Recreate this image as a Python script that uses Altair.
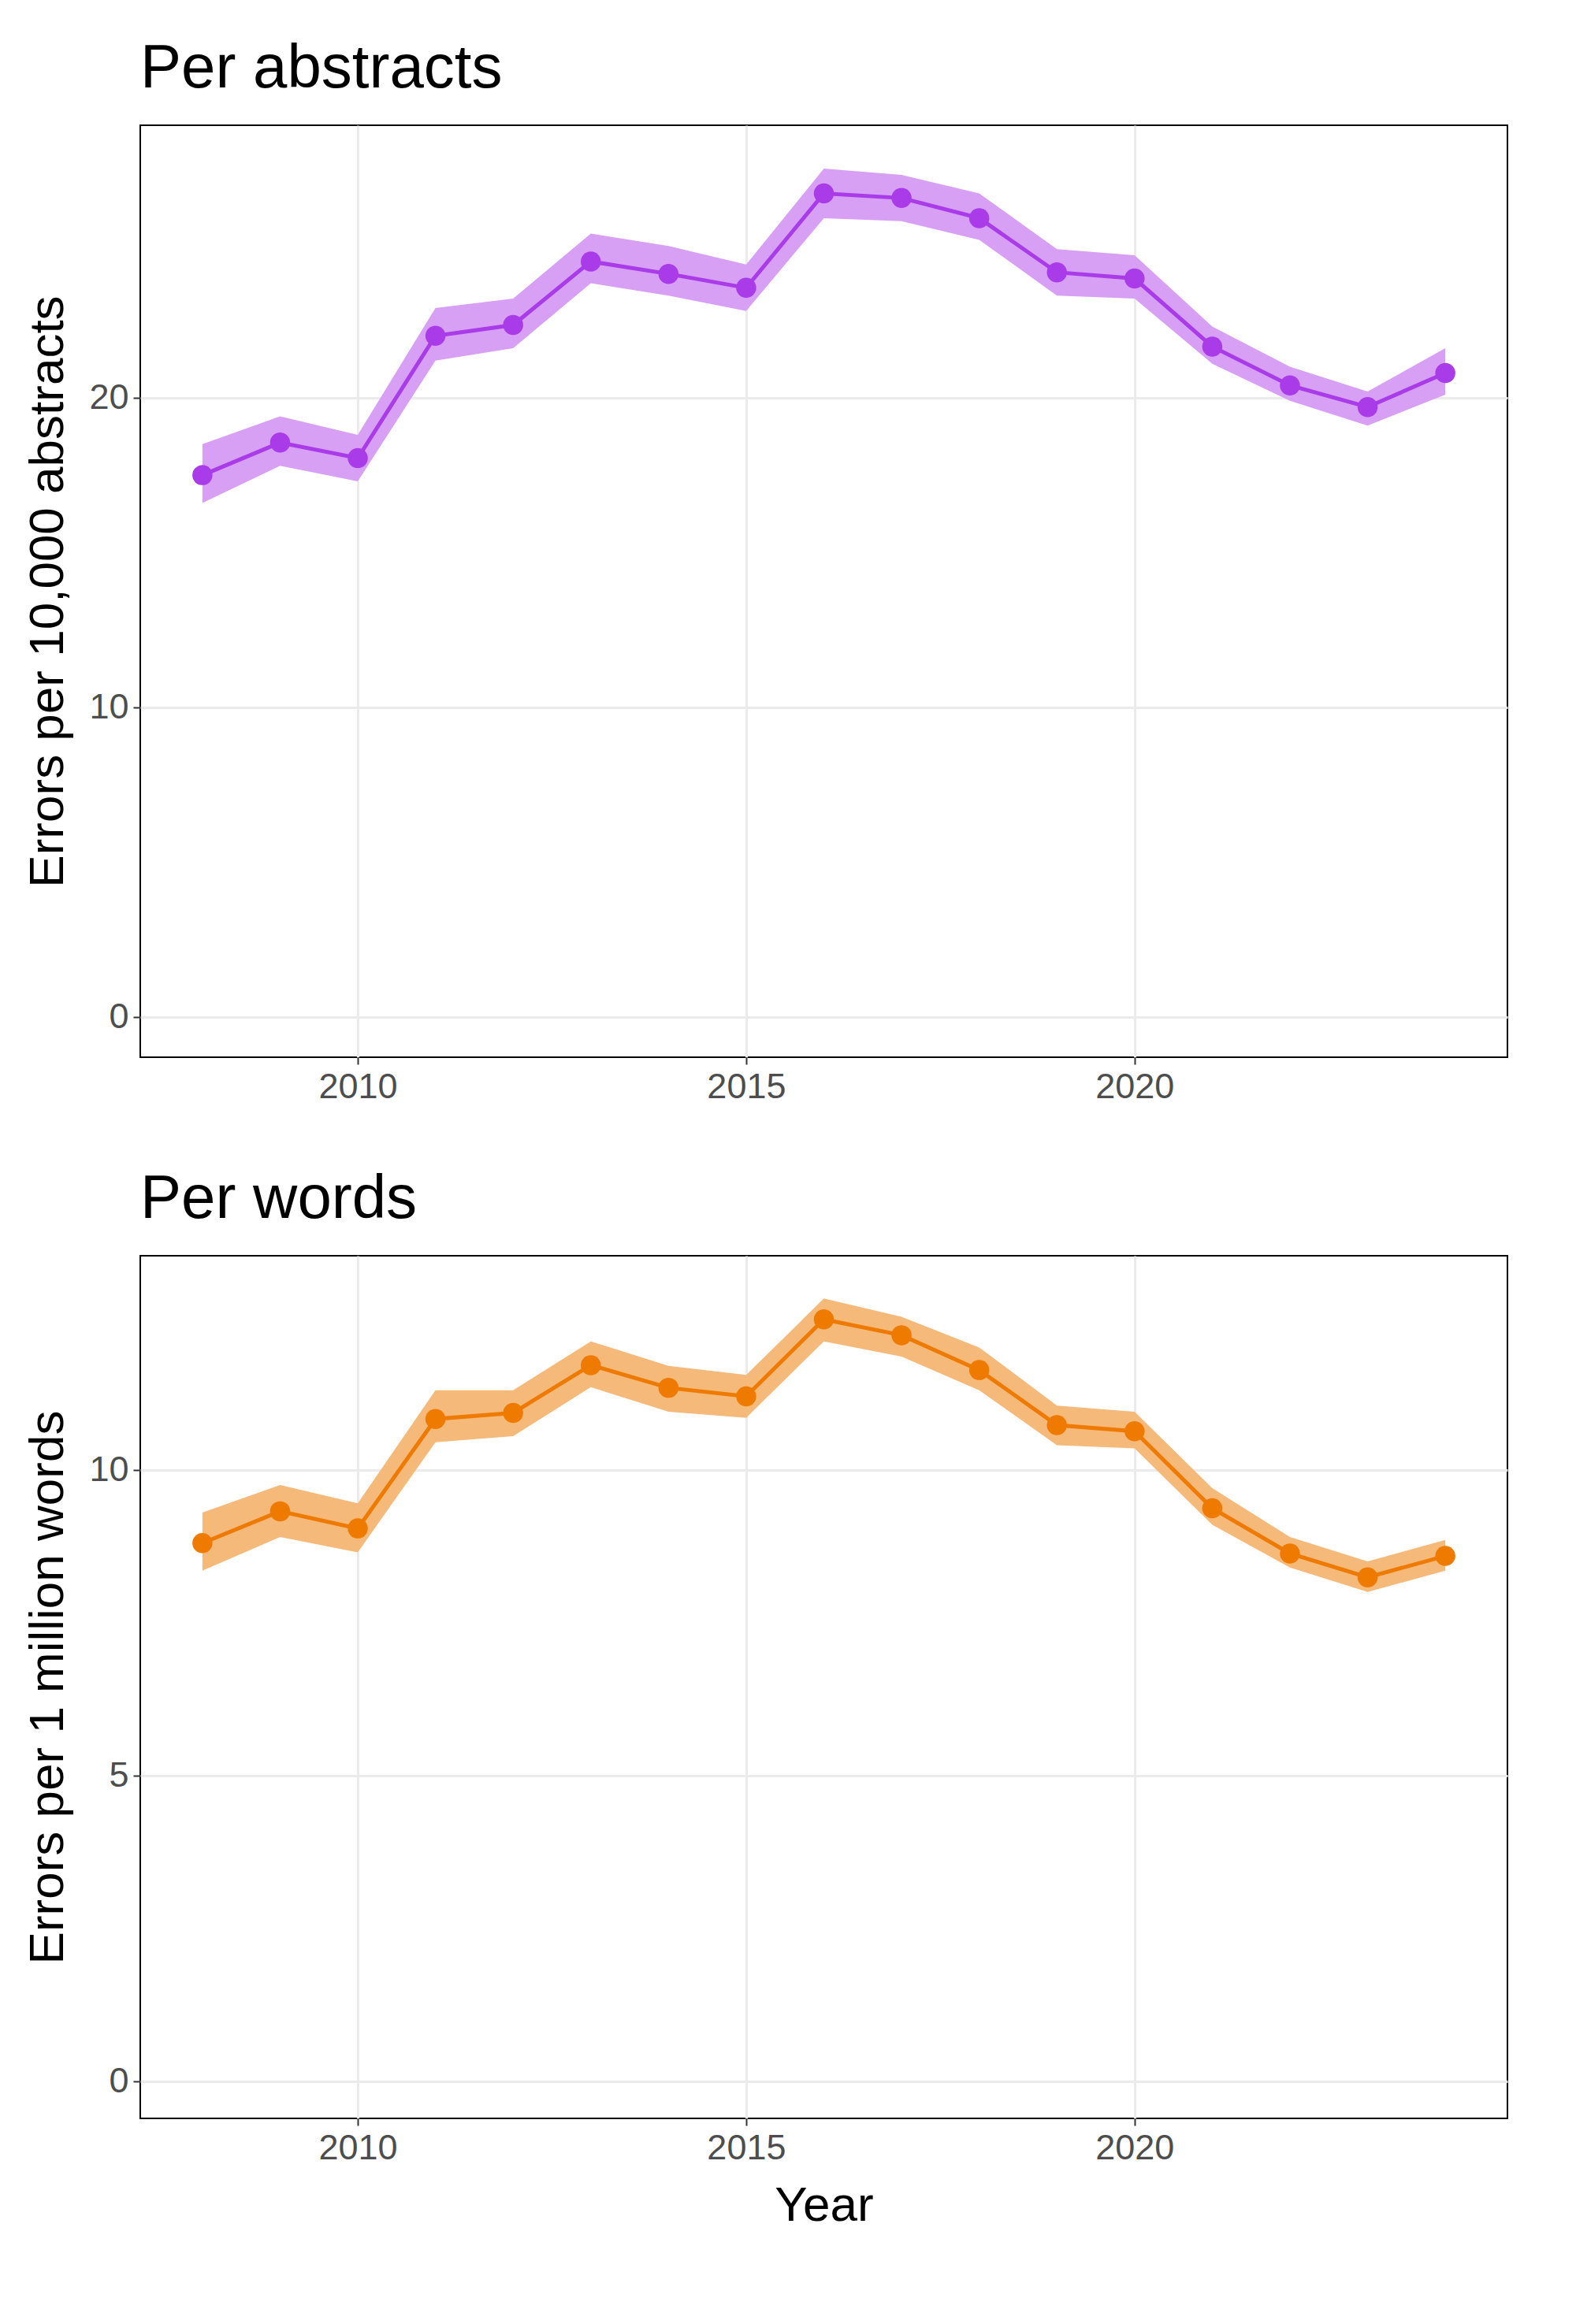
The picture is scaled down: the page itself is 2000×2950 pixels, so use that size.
import altair as alt
import pandas as pd

years = list(range(2008, 2025))

abs_rate = [17.5, 18.55, 18.05, 22.0, 22.35, 24.4, 24.0, 23.55, 26.6, 26.45, 25.8, 24.05, 23.85, 21.65, 20.4, 19.7, 20.8]
abs_lo = [16.6, 17.8, 17.3, 21.2, 21.6, 23.7, 23.3, 22.8, 25.8, 25.7, 25.1, 23.3, 23.2, 21.1, 19.9, 19.1, 20.1]
abs_hi = [18.5, 19.4, 18.8, 22.9, 23.2, 25.3, 24.9, 24.3, 27.4, 27.2, 26.6, 24.8, 24.6, 22.3, 21.0, 20.2, 21.6]

words_rate = [8.8, 9.32, 9.04, 10.83, 10.93, 11.71, 11.34, 11.2, 12.46, 12.2, 11.63, 10.73, 10.63, 9.37, 8.63, 8.24, 8.59]
words_lo = [8.35, 8.9, 8.65, 10.45, 10.55, 11.35, 10.95, 10.85, 12.1, 11.85, 11.3, 10.4, 10.35, 9.1, 8.4, 8.0, 8.35]
words_hi = [9.3, 9.75, 9.45, 11.3, 11.3, 12.1, 11.7, 11.55, 12.8, 12.5, 12.0, 11.05, 10.95, 9.7, 8.9, 8.5, 8.85]

_GREY = "#4D4D4D"


def panel(rate, lo, hi, title, ytitle, ydom, yticks, line_col, band_col, height, show_xtitle):
    df = pd.DataFrame({"year": years, "rate": rate, "lo": lo, "hi": hi})
    x = alt.X(
        "year:Q",
        scale=alt.Scale(domain=[2007.2, 2024.8], nice=False, zero=False),
        axis=alt.Axis(values=[2010, 2015, 2020], format="d"),
        title="Year" if show_xtitle else None,
    )
    yscale = alt.Scale(domain=ydom, nice=False, zero=False)
    y = alt.Y("rate:Q", scale=yscale, axis=alt.Axis(values=yticks, format="d"), title=ytitle)
    band = alt.Chart(df).mark_area(color=band_col, opacity=1).encode(
        x=x, y=alt.Y("lo:Q", scale=yscale, axis=alt.Axis(values=yticks, format="d"), title=ytitle), y2="hi:Q"
    )
    line = alt.Chart(df).mark_line(color=line_col, strokeWidth=5).encode(x=x, y=y)
    pts = alt.Chart(df).mark_circle(color=line_col, size=650, opacity=1).encode(x=x, y=y)
    return (band + line + pts).properties(
        width=1735, height=height,
        title=alt.TitleParams(title, anchor="start", frame="group", fontSize=78, fontWeight="normal",
                              color="black", font="Liberation Sans", offset=32),
    )


top = panel(abs_rate, abs_lo, abs_hi, "Per abstracts", "Errors per 10,000 abstracts",
            [-1.3, 28.8], [0, 10, 20], "#A93BE8", "#D8A0F5", 1183, False)
bottom = panel(words_rate, words_lo, words_hi, "Per words", "Errors per 1 million words",
               [-0.61, 13.5], [0, 5, 10], "#EE7A00", "#F5B97A", 1095, True)

chart = (
    alt.vconcat(top, bottom, spacing=80)
    .properties(padding={"top": 40, "left": 20, "right": 20, "bottom": 10})
    .configure(background="white", font="Liberation Sans")
    .configure_view(stroke="black", strokeWidth=2)
    .configure_axis(
        grid=True, gridColor="#EBEBEB", gridWidth=3, domain=False,
        tickColor="#333333", tickSize=9, tickWidth=2,
        labelColor=_GREY, labelFontSize=45, labelFont="Liberation Sans",
        titleFontSize=62, titleFontWeight="normal", titleColor="black", titleFont="Liberation Sans",
        labelPadding=6, titlePadding=20,
    )
)

chart.save("out.html", embed_options={"renderer": "svg", "actions": False})
